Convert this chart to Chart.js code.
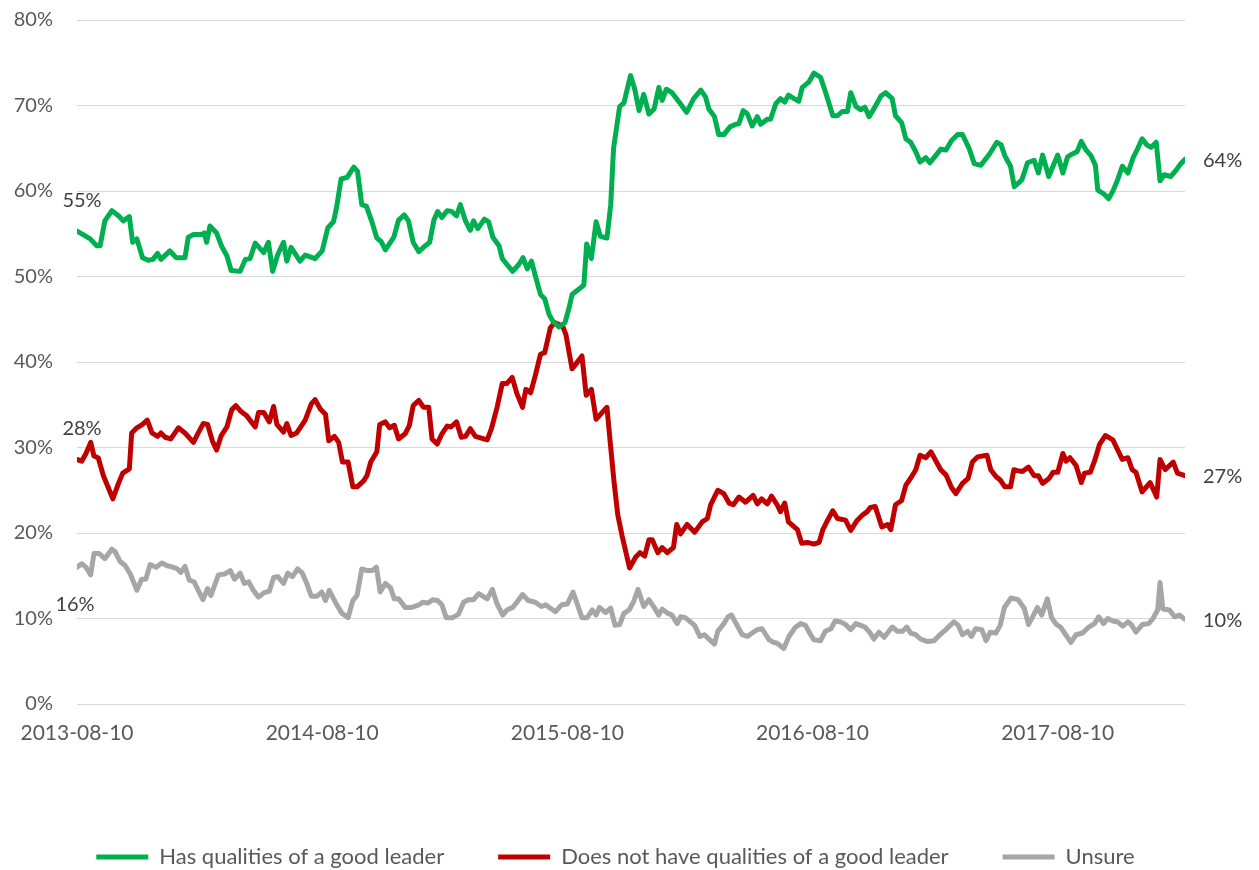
<!DOCTYPE html>
<html>
<head>
<meta charset="utf-8">
<script src="https://cdn.jsdelivr.net/npm/chart.js@4.4.1/dist/chart.umd.min.js"></script>
<style>
  html, body { margin: 0; padding: 0; background: #ffffff; }
  #wrap { width: 1259px; height: 870px; }
</style>
</head>
<body>
<div id="wrap"><canvas id="leaderChart" width="1259" height="870"></canvas></div>
<script>
// x = weeks since 2013-08-10, y = percent
const hasWeeks = [
  0, 1.3, 2.8, 4.2, 4.9, 5.9, 7.4, 8.8, 9.8, 11.1, 11.8, 12.7, 13.9, 15.1, 16.1, 17.1, 17.8, 19.7,
  21.0, 22.9, 23.6, 24.7, 26.5, 27.0, 27.5, 28.2, 29.6, 30.7, 31.8, 32.7, 34.6, 35.7, 36.7, 37.8,
  39.6, 40.6, 41.5, 42.6, 43.8, 44.5, 45.4, 47.3, 48.4, 50.5, 52.0, 53.2, 54.4, 55.1, 56.0, 57.3,
  58.7, 59.5, 60.4, 61.4, 62.6, 63.6, 64.5, 65.4, 67.2, 68.2, 69.4, 70.3, 71.3, 72.5, 73.9, 74.8,
  75.7, 76.5, 77.4, 78.5, 79.5, 80.5, 81.3, 82.4, 83.4, 84.1, 85.0, 86.4, 87.3, 88.2, 89.5, 90.2,
  91.2, 92.4, 93.7, 94.6, 95.5, 96.4, 97.2, 98.3, 99.2, 100.1, 100.9, 102.2, 103.5, 104.4, 105.0,
  106.4, 107.5, 108.1, 109.1, 110.1, 111.0, 112.4, 113.2, 113.8, 115.1, 116.0, 117.4, 118.3, 119.2,
  120.2, 121.3, 122.4, 123.4, 124.1, 125.0, 126.2, 127.7, 129.3, 130.8, 132.3, 133.3, 134.0, 135.2,
  136.1, 137.2, 138.5, 139.7, 140.4, 141.3, 142.2, 143.2, 144.3, 145.0, 146.4, 147.1, 148.2, 149.2,
  150.1, 150.9, 152.1, 153.1, 153.8, 155.3, 156.3, 157.7, 158.8, 160.3, 161.3, 162.3, 163.4, 164.1,
  165.2, 166.2, 167.1, 168.0, 169.0, 170.5, 171.5, 172.9, 173.6, 174.9, 175.8, 176.8, 177.9, 178.8,
  180.0, 180.9, 182.2, 183.2, 184.3, 185.5, 186.8, 187.8, 189.2, 190.3, 191.7, 193.5, 195.1, 196.0,
  196.8, 198.0, 198.8, 200.4, 201.6, 203.0, 203.9, 204.8, 206.1, 208.0, 209.1, 210.1, 211.0, 212.1,
  213.0, 214.0, 215.1, 216.0, 216.5, 217.7, 218.8, 219.8, 220.7, 221.7, 222.9, 224.0, 225.0, 225.9,
  226.9, 227.8, 228.9, 229.7, 230.6, 232.0, 233.2, 234.1, 235.0
];
const hasValues = [
  55.3, 54.9, 54.4, 53.6, 53.6, 56.5, 57.7, 57.1, 56.5, 57.0, 54.0, 54.4, 52.2, 51.9, 52.0, 52.7, 52.0, 53.0,
  52.2, 52.2, 54.6, 54.9, 54.9, 55.1, 54.0, 55.9, 55.1, 53.5, 52.4, 50.7, 50.6, 52.0, 52.1, 53.9,
  52.8, 54.0, 50.6, 52.6, 54.0, 51.8, 53.4, 51.8, 52.5, 52.1, 53.0, 55.7, 56.4, 58.2, 61.4, 61.6,
  62.8, 62.3, 58.4, 58.2, 56.3, 54.5, 54.1, 53.1, 54.6, 56.6, 57.2, 56.5, 54.0, 52.9, 53.6, 54.0,
  56.6, 57.6, 56.9, 57.7, 57.6, 57.1, 58.4, 56.5, 55.4, 56.5, 55.6, 56.7, 56.4, 54.6, 53.6, 52.1,
  51.4, 50.6, 51.4, 52.2, 50.9, 51.8, 50.1, 47.9, 47.4, 45.6, 44.8, 44.1, 44.6, 46.4, 47.9,
  48.5, 49.0, 53.8, 52.1, 56.4, 54.7, 54.5, 58.4, 65.0, 69.9, 70.3, 73.5, 71.9, 69.4,
  71.3, 69.0, 69.6, 72.1, 70.6, 71.9, 71.5, 70.4, 69.2, 70.8, 71.8, 71.0, 69.6, 68.7,
  66.6, 66.6, 67.5, 67.8, 67.9, 69.4, 69.0, 67.6, 68.7, 67.8, 68.4, 68.4, 70.2, 70.8,
  70.4, 71.2, 70.8, 70.5, 72.1, 72.8, 73.8, 73.3, 71.5, 68.8, 68.8, 69.3, 69.3, 71.5,
  69.9, 69.5, 69.8, 68.7, 69.6, 71.1, 71.5, 70.8, 68.8, 68.0, 66.1, 65.7, 64.6, 63.4,
  63.9, 63.3, 64.2, 64.9, 64.8, 65.9, 66.6, 66.6, 65.0, 63.2, 63.0, 64.3, 65.7, 65.4,
  64.1, 62.9, 60.5, 61.3, 63.3, 63.6, 62.1, 64.2, 61.7, 64.2, 62.1, 64.0, 64.3, 64.6,
  65.8, 64.8, 64.1, 63.0, 60.1, 59.7, 59.1, 60.1, 61.3, 62.9, 62.1, 63.9, 65.0, 66.1,
  65.4, 65.1, 65.7, 61.2, 61.9, 61.7, 62.5, 63.2, 63.7
];

const notWeeks = [
  0, 1.0, 1.9, 2.9, 3.6, 4.5, 5.6, 7.6, 8.8, 9.7, 11.1, 11.6, 12.7, 13.9, 14.9, 15.9, 17.1, 17.8,
  18.7, 19.9, 21.5, 22.9, 24.7, 25.8, 26.8, 27.7, 28.7, 29.6, 30.6, 31.8, 32.8, 33.7, 34.8, 36.0,
  37.8, 38.5, 39.6, 40.8, 41.7, 42.4, 43.8, 44.5, 45.4, 46.6, 48.4, 49.7, 50.5, 51.6, 52.7, 53.4,
  54.6, 55.5, 56.3, 57.5, 58.5, 59.4, 60.8, 61.5, 62.3, 63.6, 64.2, 65.4, 66.3, 67.3, 68.2, 69.6,
  70.5, 71.3, 72.5, 73.5, 74.6, 75.3, 76.4, 77.4, 78.5, 79.3, 80.5, 81.5, 82.4, 83.4, 84.5, 86.3,
  87.0, 87.9, 89.1, 90.2, 91.2, 92.3, 93.3, 94.5, 95.2, 96.2, 97.2, 98.3, 99.2, 100.4, 101.3,
  103.0, 103.7, 105.0, 106.0, 107.1, 108.0, 109.1, 110.1, 111.4, 112.4, 113.2, 113.9, 114.7, 115.6,
  117.2, 118.5, 119.4, 120.4, 121.3, 122.0, 123.2, 124.1, 125.2, 126.5, 127.2, 128.0, 129.4, 131.0,
  132.6, 133.7, 134.4, 135.9, 137.2, 138.3, 139.2, 140.4, 141.8, 143.4, 144.3, 145.2, 146.4, 147.3,
  148.5, 149.2, 150.1, 150.9, 152.8, 153.7, 154.9, 156.3, 157.4, 158.2, 159.2, 160.3, 161.3, 163.0,
  164.1, 165.5, 166.6, 167.6, 168.3, 169.3, 170.7, 171.9, 172.6, 173.6, 174.9, 175.8, 176.8, 177.9,
  178.8, 180.0, 181.1, 182.2, 183.2, 184.3, 185.5, 186.4, 187.8, 189.0, 189.9, 191.0, 193.0, 193.8,
  194.9, 195.8, 196.8, 198.0, 198.7, 199.5, 200.5, 201.8, 203.0, 203.9, 204.8, 206.2, 207.0, 208.0,
  209.1, 209.8, 210.6, 211.9, 213.0, 213.7, 214.9, 215.8, 216.9, 218.1, 219.7, 221.7, 222.9, 223.8,
  224.6, 225.9, 227.6, 229.0, 229.7, 230.8, 232.5, 233.4, 235.0
];
const notValues = [
  28.6, 28.4, 29.3, 30.6, 29.0, 28.8, 26.7, 24.0, 25.8, 27.0, 27.5, 31.7, 32.3, 32.7, 33.2, 31.7, 31.3, 31.7,
  31.2, 31.0, 32.3, 31.7, 30.6, 31.8, 32.8, 32.7, 30.8, 29.7, 31.4, 32.4, 34.4, 34.9, 34.2, 33.7,
  32.4, 34.1, 34.1, 33.0, 34.8, 32.7, 31.8, 32.8, 31.4, 31.7, 33.2, 35.1, 35.6, 34.5, 33.9, 30.8,
  31.3, 30.6, 28.3, 28.3, 25.4, 25.4, 26.1, 26.7, 28.3, 29.5, 32.7, 33.0, 32.3, 32.6, 31.0, 31.6,
  32.6, 34.9, 35.5, 34.7, 34.7, 31.0, 30.4, 31.6, 32.5, 32.4, 33.0, 31.2, 31.3, 32.2, 31.3, 31.0,
  30.9, 32.2, 34.7, 37.5, 37.5, 38.2, 36.3, 34.7, 36.8, 36.4, 38.4, 40.9, 41.1, 44.0, 44.6,
  44.2, 43.2, 39.2, 39.9, 40.7, 36.1, 36.8, 33.3, 34.1, 34.7, 30.0, 26.0, 22.1, 19.7,
  15.9, 17.2, 17.7, 17.3, 19.2, 19.2, 17.7, 18.3, 17.7, 18.3, 21.0, 19.9, 21.0, 20.1,
  21.3, 21.7, 23.3, 25.0, 24.6, 23.5, 23.3, 24.2, 23.6, 24.4, 23.4, 24.0, 23.4, 24.3,
  23.3, 22.5, 23.5, 21.3, 20.4, 18.8, 18.9, 18.7, 18.9, 20.4, 21.5, 22.6, 21.7, 21.5,
  20.3, 21.5, 22.1, 22.5, 23.0, 23.1, 20.7, 21.0, 20.4, 23.3, 23.8, 25.6, 26.4, 27.4,
  29.1, 28.8, 29.5, 28.4, 27.4, 26.8, 25.3, 24.6, 25.8, 26.4, 28.3, 28.9, 29.1, 27.4,
  26.6, 26.2, 25.4, 25.4, 27.4, 27.3, 27.2, 27.7, 26.7, 26.7, 25.8, 26.4, 27.1, 27.1,
  29.3, 28.4, 28.8, 27.9, 25.9, 27.0, 27.1, 28.4, 30.4, 31.4, 30.9, 28.6, 28.8, 27.4,
  27.1, 24.8, 25.9, 24.2, 28.6, 27.4, 28.3, 27.0, 26.7
];

const unsureWeeks = [
  0, 1.0, 1.9, 2.9, 3.6, 4.7, 5.9, 7.4, 8.1, 9.1, 10.2, 11.3, 12.7, 13.7, 14.6, 15.5, 16.8, 18.0,
  19.0, 20.3, 21.3, 22.0, 22.9, 23.8, 24.8, 26.7, 27.7, 28.4, 30.0, 31.3, 32.5, 33.4, 34.6, 35.5,
  36.4, 37.4, 38.5, 39.6, 40.8, 41.7, 42.6, 43.8, 44.7, 45.7, 46.8, 47.8, 48.8, 49.7, 50.9, 51.9,
  52.7, 53.5, 55.1, 56.2, 57.5, 58.5, 59.4, 60.4, 61.5, 62.6, 63.5, 64.3, 65.4, 66.5, 67.3, 68.2,
  69.6, 71.0, 72.5, 73.4, 74.4, 75.5, 76.5, 77.4, 78.3, 79.7, 80.9, 82.0, 83.0, 84.1, 85.2, 86.4,
  87.0, 88.1, 89.1, 90.3, 91.2, 92.4, 93.3, 94.5, 95.7, 97.2, 98.5, 99.4, 100.4, 101.5, 102.8,
  104.0, 105.2, 106.1, 107.1, 108.2, 109.3, 110.1, 110.8, 112.1, 113.2, 114.1, 115.1, 116.0, 117.1,
  118.0, 119.0, 120.2, 121.3, 122.4, 123.4, 124.1, 125.3, 126.2, 127.3, 128.0, 129.0, 130.1, 131.0,
  132.1, 133.1, 134.2, 135.2, 135.9, 137.2, 138.1, 138.8, 139.9, 141.1, 142.2, 143.2, 144.3, 145.3,
  146.8, 147.8, 148.5, 149.9, 151.0, 152.4, 153.5, 154.5, 155.6, 156.3, 157.7, 158.7, 159.9, 160.8,
  162.0, 163.0, 164.1, 165.2, 166.2, 167.1, 168.1, 169.0, 170.1, 171.2, 172.9, 174.0, 175.1, 176.0,
  176.8, 177.9, 178.9, 180.4, 181.8, 183.0, 184.3, 185.2, 186.0, 186.9, 187.8, 188.9, 189.7, 190.6,
  191.9, 192.8, 193.7, 194.9, 195.8, 196.7, 198.1, 199.6, 200.9, 201.8, 202.6, 203.7, 204.6, 205.8,
  206.7, 207.7, 208.6, 209.7, 210.8, 211.9, 213.3, 214.6, 215.8, 216.7, 217.7, 218.6, 219.7, 220.7,
  221.8, 222.9, 223.6, 224.6, 226.0, 227.3, 228.2, 229.2, 229.7, 230.3, 231.7, 232.8, 233.8, 235.0
];
const unsureValues = [
  16.0, 16.4, 16.0, 15.1, 17.6, 17.6, 17.0, 18.1, 17.8, 16.7, 16.2, 15.2, 13.3, 14.6, 14.6, 16.3, 16.0, 16.5,
  16.2, 16.0, 15.8, 15.4, 16.1, 14.5, 14.3, 12.2, 13.5, 12.7, 15.1, 15.2, 15.6, 14.6, 15.3, 14.1,
  14.3, 13.3, 12.5, 13.0, 13.2, 14.8, 14.9, 14.1, 15.3, 14.9, 15.8, 15.3, 14.0, 12.6, 12.6, 13.1,
  12.1, 13.3, 11.6, 10.6, 10.1, 12.1, 12.7, 15.8, 15.6, 15.6, 16.0, 13.1, 14.1, 13.6, 12.3, 12.3,
  11.3, 11.3, 11.6, 11.9, 11.8, 12.2, 12.1, 11.6, 10.1, 10.1, 10.5, 11.9, 12.2, 12.2, 12.9, 12.5,
  12.3, 13.4, 11.7, 10.4, 11.0, 11.3, 11.9, 12.8, 12.1, 11.9, 11.4, 11.6, 11.2, 10.8, 11.6,
  11.7, 13.1, 11.7, 10.1, 10.1, 11.0, 10.4, 11.3, 10.7, 11.2, 9.2, 9.3, 10.6, 11.0,
  11.9, 13.4, 11.4, 12.2, 11.3, 10.4, 11.1, 10.6, 10.4, 9.4, 10.2, 10.1, 9.6, 9.2,
  7.9, 8.1, 7.5, 7.0, 8.5, 9.4, 10.2, 10.4, 9.3, 8.1, 7.9, 8.3, 8.7, 8.8,
  7.5, 7.2, 7.1, 6.5, 7.9, 9.0, 9.4, 9.2, 8.1, 7.5, 7.4, 8.5, 8.8, 9.7,
  9.6, 9.3, 8.7, 9.4, 9.2, 9.0, 8.4, 7.6, 8.4, 7.8, 9.0, 8.5, 8.5, 9.0,
  8.3, 8.1, 7.6, 7.3, 7.4, 8.1, 8.7, 9.2, 9.6, 9.2, 8.1, 8.5, 7.9, 8.8,
  8.7, 7.4, 8.4, 8.3, 9.2, 11.3, 12.4, 12.2, 11.2, 9.3, 10.1, 11.3, 10.4, 12.3,
  10.1, 9.3, 9.0, 8.1, 7.2, 8.1, 8.3, 9.0, 9.4, 10.2, 9.4, 10.0, 9.7, 9.6,
  9.1, 9.6, 9.3, 8.4, 9.3, 9.4, 10.0, 11.0, 14.2, 11.1, 11.0, 10.2, 10.4, 9.9
];

const seriesNames = [
  "Has qualities of a good leader",
  "Does not have qualities of a good leader",
  "Unsure"
];
const seriesColors = ["#00b050", "#c00000", "#a6a6a6"];
const tickWeeks = [0, 52, 104, 156, 208];
const tickLabels = ["2013-08-10", "2014-08-10", "2015-08-10", "2016-08-10", "2017-08-10"];
const startLabels = ["55%", "28%", "16%"];
const endLabels = ["64%", "27%", "10%"];

const FONT = "Lato";

function toPoints(weeks, values) {
  return weeks.map((w, i) => ({ x: w, y: values[i] }));
}

// first / last value labels next to each line
const lineLabels = {
  id: "lineLabels",
  afterDatasetsDraw(chart) {
    const ctx = chart.ctx;
    ctx.save();
    ctx.font = "20px " + FONT;
    ctx.fillStyle = "#404040";
    ctx.textBaseline = "middle";
    chart.data.datasets.forEach((ds, i) => {
      const pts = chart.getDatasetMeta(i).data;
      const first = pts[0];
      const last = pts[pts.length - 1];
      ctx.textAlign = "center";
      if (i === 2) {
        ctx.fillText(startLabels[i], first.x - 2, first.y + 37);
      } else {
        ctx.fillText(startLabels[i], first.x + 5, first.y - 31);
      }
      ctx.textAlign = "left";
      ctx.fillText(endLabels[i], last.x + 18, last.y + 1);
    });
    ctx.restore();
  }
};

const seriesData = [
  toPoints(hasWeeks, hasValues),
  toPoints(notWeeks, notValues),
  toPoints(unsureWeeks, unsureValues)
];

const ctx = document.getElementById("leaderChart").getContext("2d");
new Chart(ctx, {
  type: "line",
  data: {
    datasets: seriesNames.map((name, i) => ({
      label: name,
      data: seriesData[i],
      borderColor: seriesColors[i],
      backgroundColor: seriesColors[i],
      borderWidth: 5,
      borderJoinStyle: "round",
      borderCapStyle: "round",
      pointRadius: 0,
      pointHoverRadius: 0,
      tension: 0,
      fill: false
    }))
  },
  options: {
    responsive: false,
    animation: false,
    layout: { padding: { top: 20, left: 0, right: 28, bottom: -8 } },
    plugins: {
      tooltip: { enabled: false },
      legend: {
        position: "bottom",
        labels: {
          usePointStyle: true,
          pointStyle: "line",
          pointStyleWidth: 52,
          padding: 54,
          color: "#595959",
          font: { family: FONT, size: 22, lineHeight: 1 }
        }
      }
    },
    scales: {
      x: {
        type: "linear",
        min: 0,
        max: 235,
        grid: { display: false },
        border: { display: false },
        afterBuildTicks: (scale) => {
          scale.ticks = tickWeeks.map((v) => ({ value: v }));
        },
        afterFit: (scale) => {
          scale.height = 88;
        },
        ticks: {
          autoSkip: false,
          maxRotation: 0,
          padding: 9,
          color: "#595959",
          font: { family: FONT, size: 21 },
          callback: (v) => tickLabels[tickWeeks.indexOf(v)]
        }
      },
      y: {
        min: 0,
        max: 80,
        afterFit: (scale) => {
          scale.width = 77;
        },
        // transparent tick marks give the gap between labels and plot
        grid: { color: "#d9d9d9", lineWidth: 1, drawTicks: true, tickLength: 24, tickColor: "rgba(0,0,0,0)" },
        border: { display: false },
        ticks: {
          stepSize: 10,
          padding: 0,
          color: "#595959",
          font: { family: FONT, size: 20 },
          callback: (v) => v + "%"
        }
      },
      yRight: {
        type: "linear",
        position: "right",
        min: 0,
        max: 80,
        grid: { display: false },
        border: { display: false },
        ticks: { display: false },
        afterFit: (scale) => {
          scale.width = 46;
        }
      }
    }
  },
  plugins: [lineLabels]
});
</script>
</body>
</html>
